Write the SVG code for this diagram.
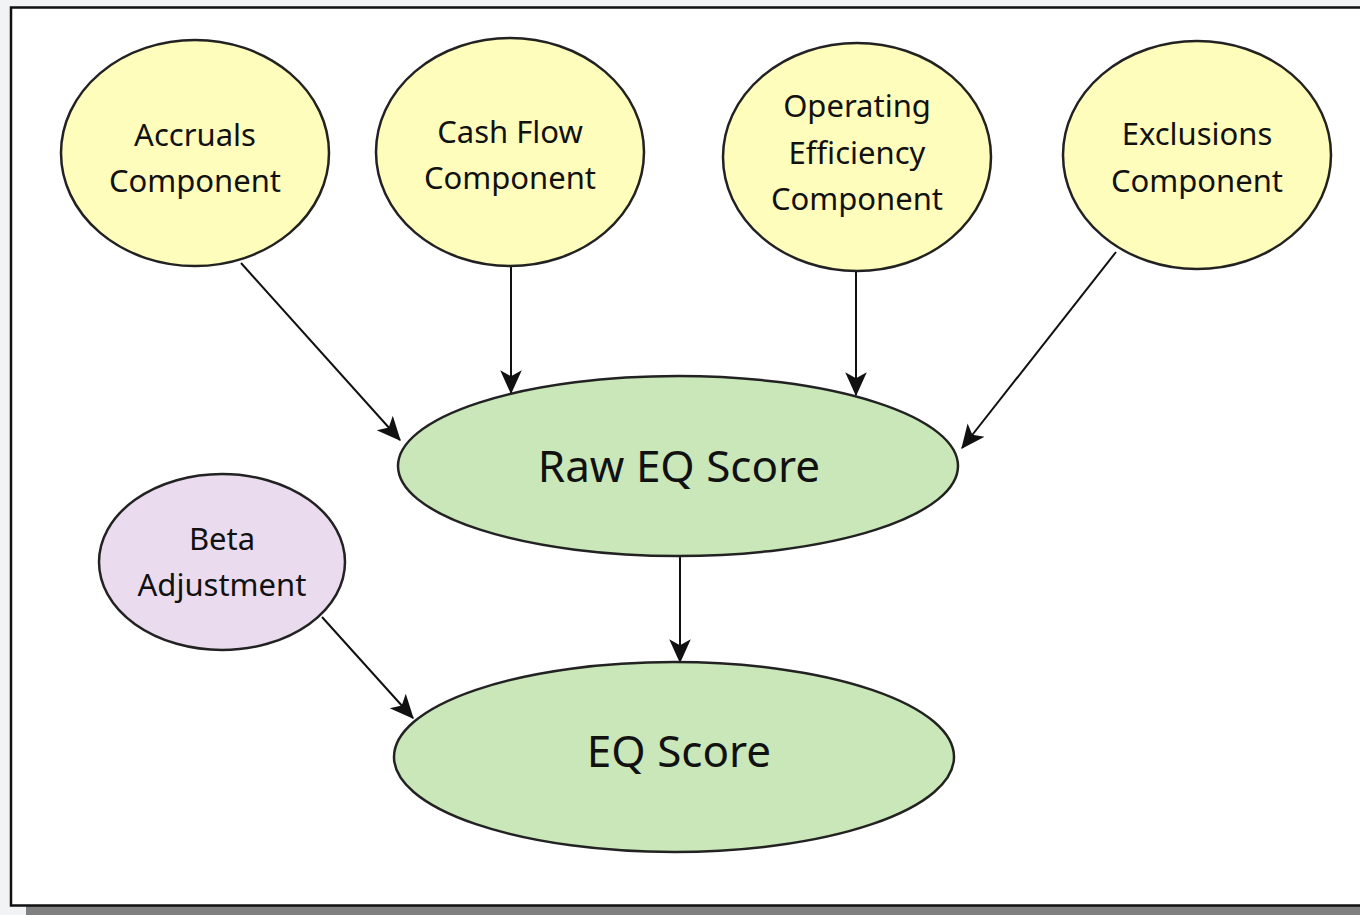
<svg xmlns="http://www.w3.org/2000/svg" width="1360" height="915" viewBox="0 0 1360 915">
<defs>
<style>
.n{stroke:#222;stroke-width:2.5}
.y{fill:#fffdbb}
.g{fill:#c9e7b9}
.p{fill:#eadcee}
text{font-family:"Noto Sans","Open Sans",sans-serif;fill:#111;text-anchor:middle}
.s{font-size:31px}
.b{font-size:44px}
.c{stroke:#111;stroke-width:2;fill:none;marker-end:url(#ah)}
</style>
<marker id="ah" viewBox="0 0 10 10" refX="9.5" refY="5" markerWidth="24" markerHeight="24" markerUnits="userSpaceOnUse" orient="auto">
<path d="M0,0.5 L10,5 L0,9.5 L2.5,5 z" fill="#111"/>
</marker>
</defs>
<rect x="0" y="0" width="1360" height="915" fill="#f2f3f5"/>
<rect x="26" y="906" width="1334" height="9" fill="#808080"/>
<rect x="11" y="7.5" width="1360" height="898" fill="#fff" stroke="#111" stroke-width="2.5"/>
<g id="connectors">
<line class="c" x1="241" y1="263" x2="400" y2="440"/>
<line class="c" x1="511" y1="266" x2="511" y2="393"/>
<line class="c" x1="856" y1="272" x2="856" y2="395"/>
<line class="c" x1="1116" y1="252" x2="962" y2="448"/>
<line class="c" x1="680" y1="557" x2="680" y2="662"/>
<line class="c" x1="322" y1="617" x2="413" y2="718"/>
</g>
<g id="accruals">
<ellipse class="n y" cx="195" cy="153" rx="134" ry="113"/>
<text class="s" x="195" y="146">Accruals</text>
<text class="s" x="195" y="192">Component</text>
</g>
<g id="cashflow">
<ellipse class="n y" cx="510" cy="152" rx="134" ry="114"/>
<text class="s" x="510" y="143">Cash Flow</text>
<text class="s" x="510" y="189">Component</text>
</g>
<g id="operating">
<ellipse class="n y" cx="857" cy="157" rx="134" ry="114"/>
<text class="s" x="857" y="117">Operating</text>
<text class="s" x="857" y="164">Efficiency</text>
<text class="s" x="857" y="210">Component</text>
</g>
<g id="exclusions">
<ellipse class="n y" cx="1197" cy="155" rx="134" ry="114"/>
<text class="s" x="1197" y="145">Exclusions</text>
<text class="s" x="1197" y="192">Component</text>
</g>
<g id="raweq">
<ellipse class="n g" cx="678" cy="466" rx="280" ry="90"/>
<text class="b" x="679" y="482">Raw EQ Score</text>
</g>
<g id="beta">
<ellipse class="n p" cx="222" cy="562" rx="123" ry="88"/>
<text class="s" x="222" y="550">Beta</text>
<text class="s" x="222" y="596">Adjustment</text>
</g>
<g id="eqscore">
<ellipse class="n g" cx="674" cy="757" rx="280" ry="95"/>
<text class="b" x="679" y="767">EQ Score</text>
</g>
</svg>
